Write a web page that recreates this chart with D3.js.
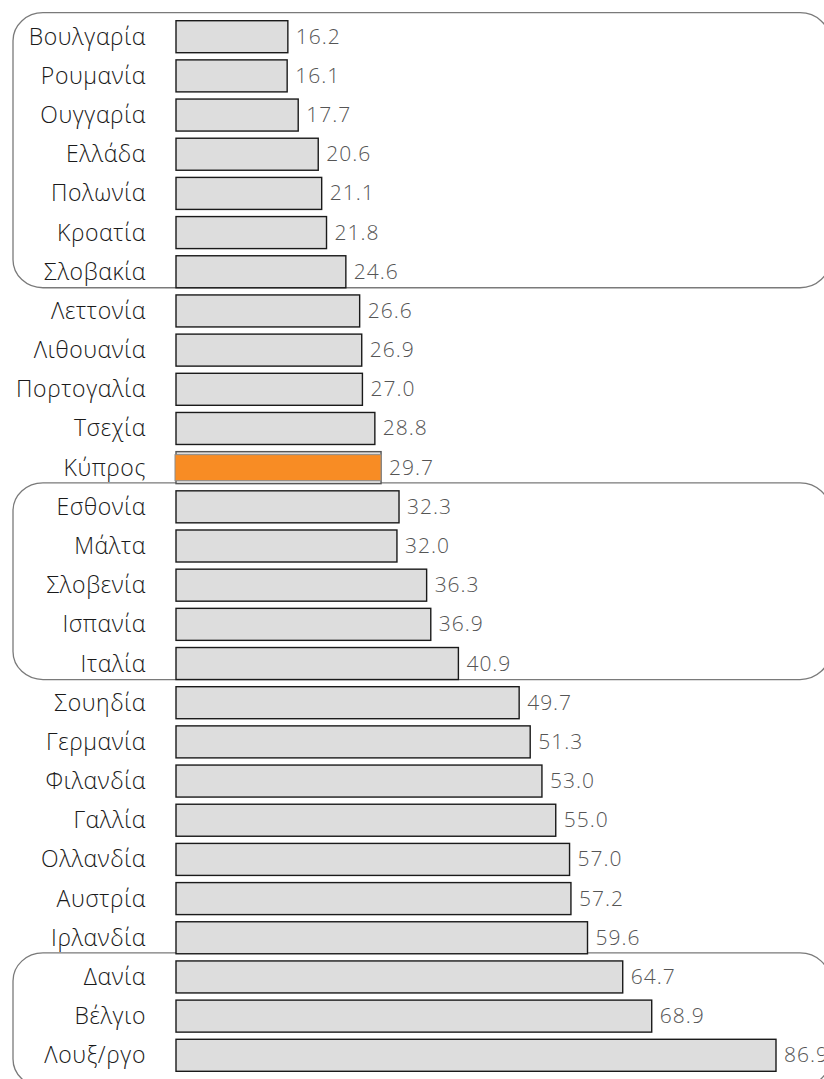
<!DOCTYPE html>
<html>
<head>
<meta charset="utf-8">
<script src="https://cdn.jsdelivr.net/npm/d3@7"></script>
<style>
  html, body { margin: 0; padding: 0; background: #fff; }
  svg { display: block; }
</style>
</head>
<body>
<svg id="chart" width="824" height="1079"></svg>
<script>
// Countries, ordered as drawn from top to bottom
const countries = [
  "Βουλγαρία", "Ρουμανία", "Ουγγαρία", "Ελλάδα", "Πολωνία", "Κροατία", "Σλοβακία",
  "Λεττονία", "Λιθουανία", "Πορτογαλία", "Τσεχία", "Κύπρος",
  "Εσθονία", "Μάλτα", "Σλοβενία", "Ισπανία", "Ιταλία",
  "Σουηδία", "Γερμανία", "Φιλανδία", "Γαλλία", "Ολλανδία", "Αυστρία", "Ιρλανδία",
  "Δανία", "Βέλγιο", "Λουξ/ργο"
];
const values = [
  16.2, 16.1, 17.7, 20.6, 21.1, 21.8, 24.6,
  26.6, 26.9, 27.0, 28.8, 29.7,
  32.3, 32.0, 36.3, 36.9, 40.9,
  49.7, 51.3, 53.0, 55.0, 57.0, 57.2, 59.6,
  64.7, 68.9, 86.9
];
const highlighted = ["Κύπρος"];
// Framed groups of countries (first and last member of each frame)
const groupStarts = ["Βουλγαρία", "Εσθονία", "Δανία"];
const groupEnds = ["Σλοβακία", "Ιταλία", "Λουξ/ργο"];

const W = 824, H = 1079;
const svg = d3.select("#chart");

const x = d3.scaleLinear().domain([0, 86.9]).range([176, 776]);
const y = d3.scaleBand().domain(countries).range([16, 1076])
  .paddingInner(0.183).paddingOuter(0.12);

const rows = countries.map((c, i) => ({ name: c, value: values[i] }));

// Rounded frames around the groups
const frames = groupStarts.map((s, i) => {
  const e = groupEnds[i];
  const top = y(s) - 8;
  const isLast = e === countries[countries.length - 1];
  const bottom = isLast ? H + 8 : y(e) + y.bandwidth();
  return { top, bottom };
});
svg.append("g").selectAll("rect").data(frames).join("rect")
  .attr("x", 13).attr("width", 817)
  .attr("y", d => d.top).attr("height", d => d.bottom - d.top)
  .attr("rx", 30).attr("ry", 28)
  .attr("fill", "none").attr("stroke", "#7a7a7a").attr("stroke-width", 1.3);

// Bars
const bars = svg.append("g");
bars.selectAll("rect").data(rows).join("rect")
  .attr("x", x(0)).attr("y", d => y(d.name))
  .attr("width", d => x(d.value) - x(0)).attr("height", y.bandwidth())
  .attr("fill", "#dddddd")
  .attr("stroke", d => highlighted.includes(d.name) ? "#555" : "#1a1a1a")
  .attr("stroke-width", 1.4);

// Highlight fill
bars.selectAll("rect.hl").data(rows.filter(d => highlighted.includes(d.name))).join("rect")
  .attr("class", "hl")
  .attr("x", x(0) - 1).attr("y", d => y(d.name) + 3)
  .attr("width", d => x(d.value) - x(0) + 1).attr("height", y.bandwidth() - 6)
  .attr("fill", "#f88c24").attr("stroke", "#8c8c8c").attr("stroke-width", 1);

// Category labels
svg.append("g").selectAll("text").data(rows).join("text")
  .attr("x", 146).attr("y", d => y(d.name) + y.bandwidth() / 2 + 8)
  .attr("text-anchor", "end")
  .attr("font-family", "'Open Sans', sans-serif").attr("font-size", 23)
  .attr("font-weight", 300).attr("letter-spacing", 0.6)
  .attr("fill", "#1a1a1a")
  .text(d => d.name);

// Value labels
svg.append("g").selectAll("text").data(rows).join("text")
  .attr("x", d => x(d.value) + 8).attr("y", d => y(d.name) + y.bandwidth() / 2 + 7)
  .attr("font-family", "'Open Sans', sans-serif").attr("font-size", 21)
  .attr("font-weight", 300).attr("letter-spacing", 1)
  .attr("fill", "#555")
  .text(d => d.value.toFixed(1));
</script>
</body>
</html>
